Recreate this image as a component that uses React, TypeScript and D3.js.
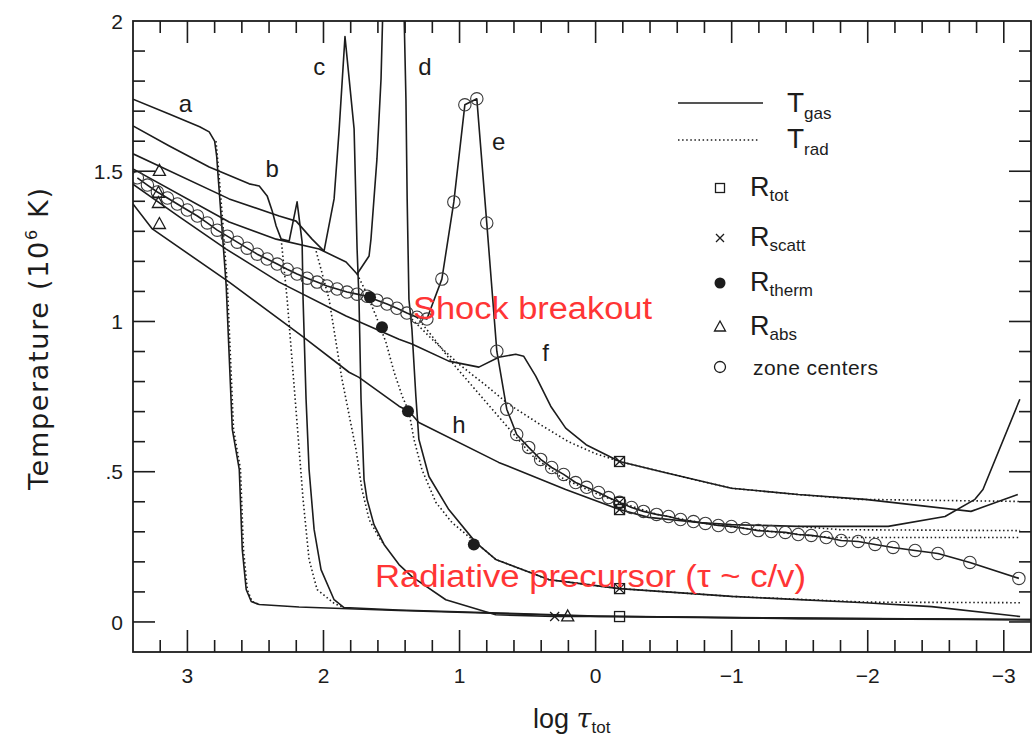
import React from 'react';
import * as d3 from 'd3';

type P = [number, number];

// x: log tau_tot, y: temperature in 10^6 K

// gas temperature profiles (solid)
const aGas: P[] = [[3.40, 1.74], [3.13, 1.69], [2.91, 1.648], [2.84, 1.631], [2.80, 1.60], [2.785, 1.55], [2.773, 1.474], [2.751, 1.341], [2.715, 1.118], [2.670, 0.641], [2.619, 0.508], [2.597, 0.241], [2.568, 0.108], [2.531, 0.068], [2.472, 0.058], [2.18, 0.050], [1.45, 0.038], [0.71, 0.028], [-0.02, 0.018], [-1.49, 0.011], [-3.2, 0.007]];
const bGas: P[] = [[3.40, 1.651], [3.133, 1.584], [2.840, 1.514], [2.546, 1.458], [2.472, 1.451], [2.414, 1.418], [2.377, 1.368], [2.348, 1.318], [2.311, 1.274], [2.252, 1.268], [2.194, 1.398], [2.157, 1.264], [2.150, 1.074], [2.128, 0.741], [2.106, 0.508], [2.069, 0.308], [2.018, 0.174], [1.922, 0.074], [1.849, 0.048], [1.45, 0.040], [0.7, 0.030], [0, 0.020], [-1.5, 0.012], [-3.2, 0.008]];
const cGas: P[] = [[3.40, 1.558], [2.693, 1.408], [2.326, 1.351], [2.201, 1.334], [2.084, 1.274], [1.996, 1.234], [1.922, 1.408], [1.886, 1.631], [1.842, 1.948], [1.775, 1.641], [1.753, 1.241], [1.739, 1.074], [1.724, 0.741], [1.702, 0.474], [1.680, 0.408], [1.629, 0.324], [1.555, 0.258], [1.445, 0.191], [1.350, 0.151], [1.101, 0.074], [0.734, 0.024], [0.30, 0.018], [-0.176, 0.018], [-1.49, 0.013], [-3.2, 0.008]];
const dGas: P[] = [[3.40, 1.508], [2.693, 1.331], [2.348, 1.274], [2.032, 1.241], [1.834, 1.198], [1.753, 1.158], [1.665, 1.218], [1.651, 1.274], [1.607, 1.541], [1.577, 1.808], [1.563, 2.05], [1.409, 2.05], [1.394, 1.741], [1.385, 1.408], [1.372, 1.074], [1.350, 0.974], [1.321, 0.751], [1.299, 0.608], [1.225, 0.484], [1.079, 0.374], [0.880, 0.264], [0.734, 0.208], [0.345, 0.141], [-0.176, 0.111], [-1.0, 0.085], [-1.98, 0.064], [-2.47, 0.051], [-3.12, 0.018]];
// curve e, drawn through its zone centers
const eZones: P[] = [[3.368, 1.478], [3.294, 1.454], [3.221, 1.431], [3.147, 1.411], [3.074, 1.391], [3.001, 1.371], [2.927, 1.351], [2.854, 1.328], [2.781, 1.304], [2.707, 1.284], [2.634, 1.264], [2.561, 1.244], [2.487, 1.224], [2.414, 1.208], [2.340, 1.191], [2.267, 1.174], [2.194, 1.158], [2.120, 1.144], [2.047, 1.131], [1.974, 1.118], [1.900, 1.108], [1.827, 1.098], [1.753, 1.091], [1.680, 1.084], [1.607, 1.071], [1.533, 1.058], [1.460, 1.044], [1.387, 1.028], [1.313, 1.014], [1.240, 1.008], [1.130, 1.141], [1.042, 1.398], [0.961, 1.721], [0.873, 1.741], [0.800, 1.328], [0.726, 0.901], [0.653, 0.708], [0.580, 0.624], [0.492, 0.581], [0.404, 0.541], [0.323, 0.514], [0.235, 0.491], [0.147, 0.464], [0.066, 0.448], [-0.022, 0.431], [-0.095, 0.414], [-0.176, 0.398], [-0.264, 0.381], [-0.352, 0.368], [-0.448, 0.358], [-0.536, 0.351], [-0.624, 0.341], [-0.719, 0.334], [-0.807, 0.328], [-0.902, 0.321], [-0.998, 0.318], [-1.101, 0.311], [-1.196, 0.304], [-1.291, 0.301], [-1.394, 0.298], [-1.489, 0.291], [-1.585, 0.288], [-1.695, 0.281], [-1.805, 0.271], [-1.930, 0.268], [-2.054, 0.258], [-2.186, 0.248], [-2.348, 0.238], [-2.516, 0.228], [-2.751, 0.198], [-3.111, 0.145]];
const fGas: P[] = [[3.404, 1.458], [3.059, 1.348], [2.715, 1.241], [2.326, 1.131], [1.834, 1.018], [1.445, 0.941], [1.350, 0.925], [1.079, 0.868], [0.858, 0.848], [0.712, 0.881], [0.587, 0.891], [0.528, 0.884], [0.44, 0.818], [0.33, 0.718], [0.22, 0.645], [0.07, 0.590], [-0.176, 0.534], [-0.50, 0.498], [-0.998, 0.445], [-1.489, 0.424], [-1.981, 0.408], [-2.370, 0.388], [-2.759, 0.368], [-3.103, 0.424]];
const hGas: P[] = [[3.40, 1.391], [3.258, 1.308], [2.693, 1.131], [2.157, 0.951], [1.812, 0.831], [1.739, 0.814], [1.445, 0.718], [1.372, 0.701], [1.299, 0.664], [0.712, 0.531], [0.220, 0.441], [-0.176, 0.374], [-0.389, 0.348], [-0.756, 0.331], [-0.998, 0.324], [-1.489, 0.318], [-2.150, 0.318], [-2.568, 0.351], [-2.788, 0.408], [-2.847, 0.441], [-3.118, 0.741]];

// radiation temperature where it parts from the gas (dotted)
const aRad: P[] = [[2.79, 1.60], [2.77, 1.50], [2.742, 1.341], [2.706, 1.118], [2.661, 0.641], [2.610, 0.508], [2.588, 0.241], [2.560, 0.108], [2.525, 0.068], [2.472, 0.058]];
const bRad: P[] = [[2.311, 1.274], [2.267, 1.074], [2.208, 0.741], [2.150, 0.408], [2.106, 0.208], [2.047, 0.108], [1.92, 0.061], [1.849, 0.048]];
const cRad: P[] = [[2.054, 1.234], [1.959, 1.074], [1.864, 0.808], [1.761, 0.574], [1.717, 0.441], [1.665, 0.341], [1.592, 0.281], [1.555, 0.258]];
const dRad: P[] = [[1.753, 1.158], [1.687, 1.098], [1.614, 1.018], [1.541, 0.931], [1.48, 0.83], [1.42, 0.75], [1.372, 0.70], [1.335, 0.608], [1.277, 0.508], [1.174, 0.398], [1.056, 0.331], [0.880, 0.264], [0.734, 0.208], [0.345, 0.141], [-0.176, 0.111], [-1.0, 0.085], [-1.98, 0.066], [-3.12, 0.064]];
const eRad: P[] = [[1.313, 1.014], [1.20, 0.95], [1.03, 0.85], [0.84, 0.75], [0.64, 0.645], [0.47, 0.555], [0.25, 0.48], [0.0, 0.428], [-0.176, 0.398], [-0.45, 0.358], [-0.80, 0.328], [-1.10, 0.311], [-1.49, 0.291], [-1.73, 0.281], [-3.12, 0.281]];
const fRad: P[] = [[1.35, 1.008], [1.20, 0.94], [1.01, 0.86], [0.80, 0.785], [0.64, 0.725], [0.40, 0.655], [0.20, 0.60], [0.0, 0.56], [-0.176, 0.534], [-0.50, 0.498], [-0.998, 0.445], [-1.489, 0.424], [-1.93, 0.408], [-3.12, 0.401]];
const hRad: P[] = [[-1.489, 0.318], [-1.8, 0.307], [-3.12, 0.304]];

// special radii
const rTot: P[] = [[-0.176, 0.534], [-0.176, 0.398], [-0.176, 0.374], [-0.176, 0.111], [-0.176, 0.018]];
const rScatt: P[] = [[-0.176, 0.534], [-0.176, 0.398], [-0.176, 0.374], [-0.176, 0.111], [0.301, 0.018]];
const rTherm: P[] = [[1.658, 1.081], [1.570, 0.981], [1.379, 0.701], [0.895, 0.258]];
const rAbs: P[] = [[3.206, 1.501], [3.213, 1.428], [3.213, 1.394], [3.206, 1.324], [0.205, 0.018]];

const curveNames = ['a', 'b', 'c', 'd', 'e', 'f', 'h'];
const curveLabelAt: P[] = [[3.015, 1.724], [2.377, 1.508], [2.032, 1.848], [1.255, 1.848], [0.712, 1.598], [0.367, 0.898], [1.005, 0.658]];

const xTicks = [3, 2, 1, 0, -1, -2, -3];
const xTickLabels = ['3', '2', '1', '0', '\u22121', '\u22122', '\u22123'];
const yTicks = [0, 0.5, 1, 1.5, 2];
const yTickLabels = ['0', '.5', '1', '1.5', '2'];

const ink = '#1c1c1c';
const red = '#ff3535';

const Square = ({ cx, cy, s }: { cx: number; cy: number; s: number }) => (
  <rect x={cx - s / 2} y={cy - s / 2} width={s} height={s} fill="none" stroke={ink} strokeWidth={1.3} />
);
const Cross = ({ cx, cy, s }: { cx: number; cy: number; s: number }) => (
  <path d={`M${cx - s / 2},${cy - s / 2}L${cx + s / 2},${cy + s / 2}M${cx - s / 2},${cy + s / 2}L${cx + s / 2},${cy - s / 2}`} stroke={ink} strokeWidth={1.3} />
);
const Tri = ({ cx, cy, s }: { cx: number; cy: number; s: number }) => (
  <path d={`M${cx},${cy - s * 0.6}L${cx + s * 0.55},${cy + s * 0.4}L${cx - s * 0.55},${cy + s * 0.4}Z`} fill="none" stroke={ink} strokeWidth={1.3} />
);

export default function App() {
  const W = 1033, H = 740;
  const x = d3.scaleLinear().domain([3.4, -3.2]).range([133, 1031]);
  const y = d3.scaleLinear().domain([-0.1, 2.0]).range([652, 21]);
  const line = d3.line<P>().x(d => x(d[0])).y(d => y(d[1]));

  const gas = [aGas, bGas, cGas, dGas, eZones, fGas, hGas];
  const rad = [aRad, bRad, cRad, dRad, eRad, fRad, hRad];

  const x0 = x(3.4), x1 = x(-3.2), y0 = y(-0.1), y1 = y(2);
  const xMinor = d3.range(-15, 17).map(i => i / 5);
  const yMinor = d3.range(0, 20).map(i => i / 10);
  const isMajorX = (v: number) => Math.abs(v - Math.round(v)) < 1e-6;
  const isMajorY = (v: number) => Math.abs(v * 2 - Math.round(v * 2)) < 1e-6;
  const big = 22, small = 12;

  return (
    <svg width={W} height={H} style={{ position: 'absolute', left: 0, top: 0 }}
      fontFamily="'Liberation Sans', Arial, sans-serif">
      <rect width={W} height={H} fill="#fff" />
      <defs>
        <clipPath id="plot">
          <rect x={x0} y={y1} width={x1 - x0} height={y0 - y1} />
        </clipPath>
      </defs>

      <g clipPath="url(#plot)">
        {rad.map((d, i) => (
          <path key={'r' + i} d={line(d) || ''} fill="none" stroke={ink} strokeWidth={1.6} strokeDasharray="1.5 2.6" />
        ))}
        {gas.map((d, i) => (
          <path key={'g' + i} d={line(d) || ''} fill="none" stroke={ink} strokeWidth={1.6} strokeLinejoin="round" />
        ))}
        {eZones.map((d, i) => (
          <circle key={'z' + i} cx={x(d[0])} cy={y(d[1])} r={6.2} fill="none" stroke="#3a3a3a" strokeWidth={1.1} />
        ))}
        {rTot.map((d, i) => <Square key={'s' + i} cx={x(d[0])} cy={y(d[1])} s={10} />)}
        {rScatt.map((d, i) => <Cross key={'x' + i} cx={x(d[0])} cy={y(d[1])} s={9} />)}
        {rTherm.map((d, i) => <circle key={'t' + i} cx={x(d[0])} cy={y(d[1])} r={6} fill={ink} />)}
        {rAbs.map((d, i) => <Tri key={'a' + i} cx={x(d[0])} cy={y(d[1])} s={11} />)}
      </g>

      {/* frame and ticks */}
      <rect x={x0} y={y1} width={x1 - x0} height={y0 - y1} fill="none" stroke={ink} strokeWidth={1.8} />
      {xMinor.map(v => {
        const len = isMajorX(v) ? big : small;
        const px = x(v);
        return (
          <g key={'xt' + v} stroke={ink} strokeWidth={1.6}>
            <line x1={px} x2={px} y1={y0} y2={y0 - len} />
            <line x1={px} x2={px} y1={y1} y2={y1 + len} />
          </g>
        );
      })}
      {yMinor.map(v => {
        const len = isMajorY(v) ? big : small;
        const py = y(v);
        return (
          <g key={'yt' + v} stroke={ink} strokeWidth={1.6}>
            <line x1={x0} x2={x0 + len} y1={py} y2={py} />
            <line x1={x1} x2={x1 - len} y1={py} y2={py} />
          </g>
        );
      })}
      {xTicks.map((v, i) => (
        <text key={'xl' + v} x={x(v)} y={683} textAnchor="middle" fontSize={21} fill={ink}>{xTickLabels[i]}</text>
      ))}
      {yTicks.map((v, i) => (
        <text key={'yl' + v} x={123} y={y(v)} dy="0.36em" textAnchor="end" fontSize={21} fill={ink}>{yTickLabels[i]}</text>
      ))}

      {/* axis titles */}
      <text x={533} y={728} fontSize={27} fill={ink}>
        log  <tspan fontStyle="italic" fontFamily="'DejaVu Serif', serif">τ</tspan>
        <tspan fontSize={17} dy={5}>tot</tspan>
      </text>
      <text transform="translate(48,339) rotate(-90)" textAnchor="middle" fontSize={27} fill={ink}
        fontFamily="'DejaVu Sans', sans-serif" textLength={302} lengthAdjust="spacing">
        Temperature (10<tspan fontSize={16} dy={-11}>6</tspan><tspan dy={11}> K)</tspan>
      </text>

      {/* curve letters */}
      {curveNames.map((n, i) => (
        <text key={'cl' + n} x={x(curveLabelAt[i][0])} y={y(curveLabelAt[i][1])} dy="0.35em"
          textAnchor="middle" fontSize={24} fill={ink}>{n}</text>
      ))}

      {/* legend */}
      <line x1={678} x2={763} y1={103} y2={103} stroke={ink} strokeWidth={1.6} />
      <text x={787} y={112} fontSize={28} fill={ink}>T<tspan fontSize={17} dy={7}>gas</tspan></text>
      <line x1={678} x2={760} y1={140} y2={140} stroke={ink} strokeWidth={1.6} strokeDasharray="1.5 2.6" />
      <text x={787} y={148} fontSize={28} fill={ink}>T<tspan fontSize={17} dy={7}>rad</tspan></text>

      <Square cx={720} cy={188} s={9} />
      <text x={750} y={196} fontSize={27} fill={ink}>R<tspan fontSize={17} dy={5}>tot</tspan></text>
      <Cross cx={720} cy={238} s={8} />
      <text x={750} y={246} fontSize={27} fill={ink}>R<tspan fontSize={17} dy={5}>scatt</tspan></text>
      <circle cx={720} cy={283} r={5.5} fill={ink} />
      <text x={750} y={291} fontSize={27} fill={ink}>R<tspan fontSize={17} dy={5}>therm</tspan></text>
      <Tri cx={720} cy={327} s={10} />
      <text x={750} y={335} fontSize={27} fill={ink}>R<tspan fontSize={17} dy={5}>abs</tspan></text>
      <circle cx={720} cy={367} r={5.5} fill="none" stroke={ink} strokeWidth={1.3} />
      <text x={753} y={375} fontSize={21} fill={ink} textLength={125} lengthAdjust="spacing">zone centers</text>

      {/* annotations */}
      <text x={413} y={319} fontSize={31} fill={red} textLength={239} lengthAdjust="spacingAndGlyphs">Shock breakout</text>
      <text x={375} y={587} fontSize={31} fill={red} textLength={431} lengthAdjust="spacingAndGlyphs">Radiative precursor (τ ~ c/v)</text>
    </svg>
  );
}
